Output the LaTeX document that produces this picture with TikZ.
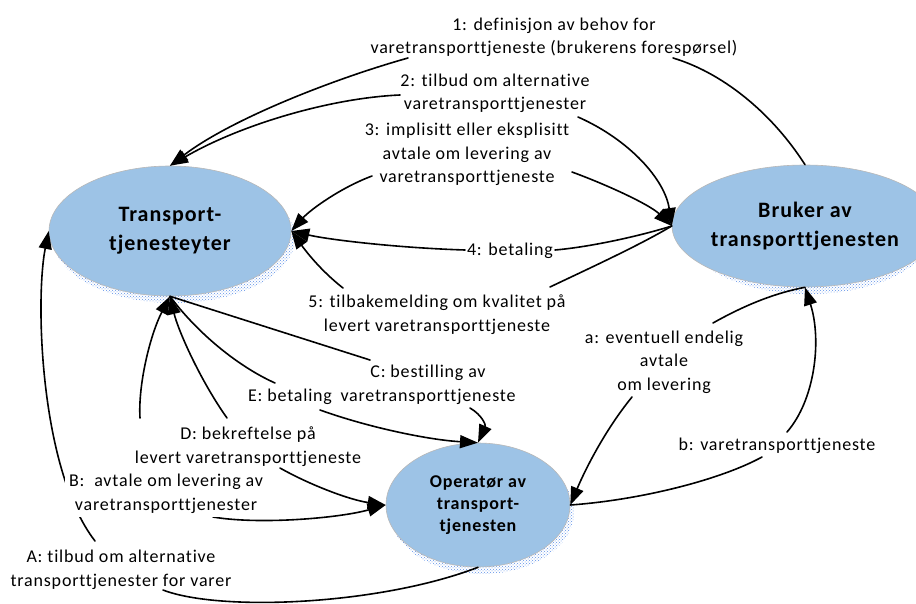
\documentclass[tikz,border=0pt]{standalone}
\usepackage{fontspec}
\setmainfont{Carlito}[LetterSpace=4.5, Ligatures=NoCommon]
\usetikzlibrary{shapes.geometric,arrows.meta,patterns}
\pgfdeclarelayer{back}
\pgfdeclarelayer{lines}
\pgfsetlayers{back,lines,main}
\definecolor{partyblue}{RGB}{157,195,230}
\definecolor{shadowblue}{RGB}{95,145,232}
\newcommand\labelsize{\fontsize{18}{23.5}\selectfont}
\newcommand\partysize{\fontsize{22}{29}\selectfont\bfseries}
\newcommand\opsize{\fontsize{18}{22}\selectfont\bfseries}

\begin{document}
\begin{tikzpicture}[x=1pt,y=-1pt,
  party/.style={ellipse, fill=partyblue, draw=black!28, line width=0.6pt, inner sep=0pt, align=center},
  shade/.style={pattern=crosshatch dots, pattern color=shadowblue},
  lbl/.style={font=\labelsize, align=center, inner sep=1pt, anchor=base},
  cover/.style={fill=white, inner sep=4pt},
  conn/.style={line width=1.6pt, line cap=round},
  arr/.style={conn, -{Triangle[length=18pt,width=13pt]}},
]
\useasboundingbox (0,0) rectangle (916,604);

% the three parties, each with a dotted drop shadow
\begin{pgfonlayer}{back}
  \path[shade] (174,238) ellipse [x radius=121, y radius=65];
  \path[shade] (809,233) ellipse [x radius=122, y radius=61];
  \path[shade] (482,512) ellipse [x radius=92, y radius=62];
  \node[party, minimum width=242pt, minimum height=130pt, font=\partysize] (tr) at (170,231) {Transport-\\tjenesteyter};
  \node[party, minimum width=244pt, minimum height=122pt, font=\partysize] (br) at (805,226) {Bruker av\\transporttjenesten};
  \node[party, minimum width=184pt, minimum height=124pt, font=\opsize] (op) at (478,505) {Operatør av\\transport-\\tjenesten};
\end{pgfonlayer}

% connector texts (each placed by the baseline of its last line)
\node[lbl] (l1) at (554,54) {1: definisjon av behov for\\varetransporttjeneste (brukerens forespørsel)};
\node[lbl] (l2) at (495,110) {2: tilbud om alternative\\varetransporttjenester};
\node[lbl] (l3) at (467,183) {3: implisitt eller eksplisitt\\avtale om levering av\\varetransporttjeneste};
\node[lbl] (l4) at (510,255) {4: betaling};
\node[lbl] (l5) at (437,331) {5: tilbakemelding om kvalitet på\\levert varetransporttjeneste};
\node[lbl] (la) at (664,390) {a: eventuell endelig\\avtale\\om levering};
\node[lbl] (lb) at (777,450) {b: varetransporttjeneste};
\node[lbl] (lC) at (428,401) {C: bestilling av\\varetransporttjeneste};
\node[lbl] (lE) at (290,401) {E: betaling};
\node[lbl] (lD) at (248,463) {D: bekreftelse på\\levert varetransporttjeneste};
\node[lbl,cover] (lB) at (166,510) {B:\ \ avtale om levering av\\varetransporttjenester};
\node[lbl] (lA) at (121,586) {A: tilbud om alternative\\transporttjenester for varer};

\begin{pgfonlayer}{lines}
  % 1
  \draw[conn] (br.north) .. controls (770,110) and (720,72) .. ([shift={(119,4)}]l1.base);
  \draw[arr] ([shift={(-146,4)}]l1.base) .. controls (330,80) and (230,120) .. (tr.north);
  % 2
  \draw[arr] ([shift={(-95,-15)}]l2.base) .. controls (330,98) and (240,125) .. (tr.north);
  \draw[arr] ([shift={(83,7)}]l2.base) .. controls (630,140) and (665,180) .. (br.west);
  % 3
  \draw[arr] ([shift={(-95,-7)}]l3.base) .. controls (340,188) and (310,210) .. (tr.east);
  \draw[arr] ([shift={(105,-11)}]l3.base) .. controls (610,186) and (650,205) .. (br.west);
  % 4
  \draw[conn] (br.west) .. controls (640,236) and (590,247) .. ([shift={(45,-5)}]l4.base);
  \draw[arr] ([shift={(-45,-5)}]l4.base) .. controls (400,248) and (330,240) .. (tr.east);
  % 5
  \draw[conn] (br.west) .. controls (640,245) and (590,268) .. ([shift={(113,-44)}]l5.base);
  \draw[arr] ([shift={(-94,-43)}]l5.base) .. controls (320,270) and (305,250) .. (tr.east);
  % C
  \draw[conn] (tr.south) -- ([shift={(-58,-41)}]lC.base);
  \draw[arr] ([shift={(42,7)}]lC.base) .. controls (482,415) and (486,425) .. (op.north);
  % E
  \draw[conn] (tr.south) .. controls (195,330) and (235,365) .. ([shift={(-15,-18)}]lE.base);
  \draw[arr] ([shift={(30,9)}]lE.base) .. controls (370,428) and (430,440) .. (op.north);
  % D
  \draw[arr] ([shift={(-21,-45)}]lD.base) .. controls (200,380) and (178,330) .. (tr.south);
  \draw[arr] ([shift={(32,5)}]lD.base) .. controls (310,485) and (350,500) .. (op.west);
  % B (its upper part reappears above the D text)
  \draw[arr] ([shift={(-108,-45)}]lD.base) .. controls (138,385) and (150,335) .. (tr.south);
  \draw[arr] ([shift={(47,7)}]lB.base) .. controls (260,525) and (340,518) .. (op.west);
  % A
  \draw[arr] ([shift={(-26,-45)}]lA.base) .. controls (40,470) and (35,300) .. (tr.west);
  \draw[conn] ([shift={(42,4)}]lA.base) .. controls (220,612) and (380,605) .. (op.south);
  % a
  \draw[conn] (br.south) .. controls (775,293) and (745,305) .. ([shift={(49,-67)}]la.base);
  \draw[arr] ([shift={(-32,7)}]la.base) .. controls (605,430) and (585,470) .. (op.east);
  % b
  \draw[conn] (op.east) .. controls (640,500) and (720,480) .. ([shift={(-15,7)}]lb.base);
  \draw[arr] ([shift={(10,-18)}]lb.base) .. controls (815,400) and (822,340) .. (br.south);
\end{pgfonlayer}
\end{tikzpicture}
\end{document}
